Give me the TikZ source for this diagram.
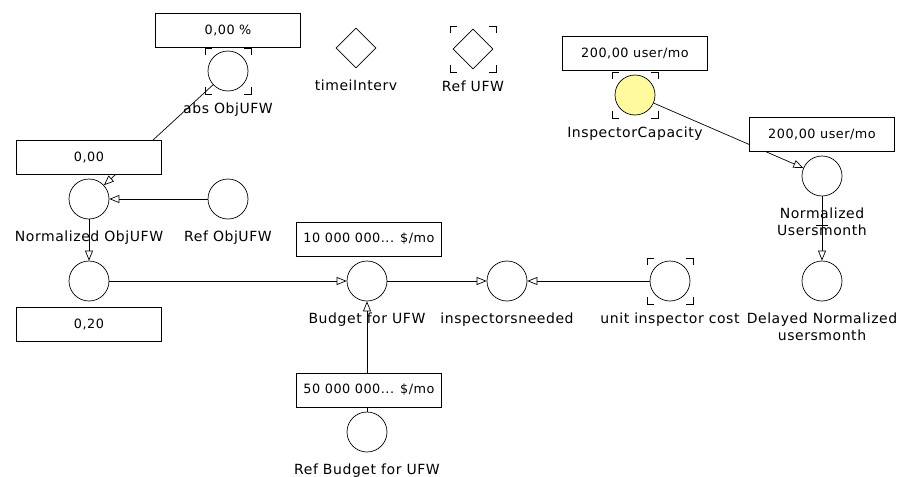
\documentclass[tikz,border=0pt]{standalone}
\usepackage{fontspec}
\setmainfont{DejaVu Sans}[LetterSpace=4]
\usetikzlibrary{arrows.meta,shapes.geometric}
\definecolor{capfill}{HTML}{FFFA9E}
\tikzset{
  var/.style = {circle, draw, minimum size=40pt, inner sep=0pt},
  param/.style = {diamond, draw, minimum size=40pt, inner sep=0pt, label distance=13pt},
  valbox/.style = {draw, fill=white, minimum width=145pt, minimum height=34pt,
    inner sep=0pt, font=\fontsize{12.8}{15}\selectfont},
  link/.style = {-{Triangle[open, length=10pt, width=8pt]}},
  every label/.style = {font=\fontsize{14}{17}\selectfont, align=center, inner sep=0pt},
  label distance = 11pt
}
\newcommand{\ghost}[1]{%
  \draw (#1) ++(-23,-16) -- ++(0,-7) -- ++(7,0);
  \draw (#1) ++(16,-23) -- ++(7,0) -- ++(0,7);
  \draw (#1) ++(-23,16) -- ++(0,7) -- ++(7,0);
  \draw (#1) ++(16,23) -- ++(7,0) -- ++(0,-7);}
\begin{document}
\begin{tikzpicture}
    [x=1pt, y=-1pt, line width=0.7pt]
    \useasboundingbox (0, 0) rectangle (898, 477);
    \node[var, label=below:abs ObjUFW] (absObj) at (228, 71) {};
    \node[param, label=below:timeiInterv] (timeInterv) at (356, 48) {};
    \node[param, label=below:Ref UFW] (refUFW) at (473, 49) {};
    \node[var, fill=capfill, label=below:InspectorCapacity] (inspCap) at (635, 95) {};
    \node[var, label={below:Normalized\\Usersmonth}] (normUsers) at (822, 176) {};
    \node[var, label={below:Delayed Normalized\\usersmonth}] (delayedUsers) at (822, 281) {};
    \node[var, label=below:unit inspector cost] (unitCost) at (670, 281) {};
    \node[var, label=below:inspectorsneeded] (inspNeeded) at (507, 281) {};
    \node[var, label=below:Budget for UFW] (budget) at (367, 281) {};
    \node[var, label=below:Ref Budget for UFW] (refBudget) at (367, 432) {};
    \node[var, label=below:Normalized ObjUFW] (normObj) at (89, 199) {};
    \node[var, label=below:Ref ObjUFW] (refObj) at (228, 199) {};
    \node[var] (objTarget) at (89, 281) {};
    \ghost{absObj} \ghost{refUFW} \ghost{inspCap} \ghost{unitCost}
    \draw[link] (absObj) -- (normObj); \draw[link] (refObj) -- (normObj);
    \draw[link] (normObj) -- (objTarget); \draw[link] (objTarget) -- (budget);
    \draw[link] (refBudget) -- (budget); \draw[link] (budget) -- (inspNeeded);
    \draw[link] (unitCost) -- (inspNeeded); \draw[link] (inspCap) -- (normUsers);
    \draw[link] (normUsers) -- coordinate[pos=0.45] (delayMark) (delayedUsers);
    \draw ([xshift=-6pt]delayMark) -- ([xshift=6pt]delayMark);
    \node[valbox] (absObjVal) at (228, 30) {0,00 \%};
    \node[valbox] (normObjVal) at (89, 157) {0,00};
    \node[valbox] (objTargetVal) at (89, 324) {0,20};
    \node[valbox] (budgetVal) at (369, 239) {10 000 000... \$/mo};
    \node[valbox] (refBudgetVal) at (369, 390) {50 000 000... \$/mo};
    \node[valbox] (inspCapVal) at (635, 53) {200,00 user/mo};
    \node[valbox] (normUsersVal) at (822, 134) {200,00 user/mo};
\end{tikzpicture}
\end{document}
